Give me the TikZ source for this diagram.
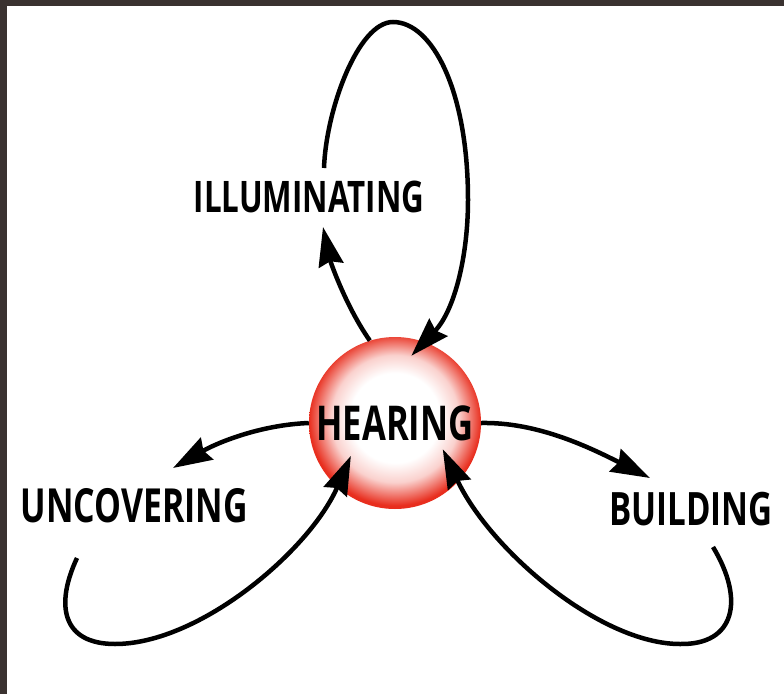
\documentclass[tikz,border=0pt]{standalone}
\usepackage{fontspec}
\usetikzlibrary{arrows.meta}
\newfontfamily\stagefont[FakeStretch=0.72]{Open Sans}
\definecolor{framebrown}{RGB}{58,50,48}
\definecolor{spherered}{RGB}{232,46,30}
\pgfdeclareradialshading{hearball}{\pgfpoint{0bp}{2bp}}{color(0bp)=(white); color(13bp)=(white); color(18.5bp)=(spherered!22); color(22.5bp)=(spherered!70); color(25bp)=(spherered); color(50bp)=(spherered)}
\begin{document}
\begin{tikzpicture}[x=1bp, y=-1bp,
    stagelabel/.style = {inner sep=0pt,
      font=\stagefont\bfseries\fontsize{#1bp}{#1bp}\selectfont},
    loopline/.style = {line width=4.5bp,
      -{Stealth[length=39bp,width=25bp,inset=4bp]}}]
    \useasboundingbox (0,0) rectangle (784,694);
    \fill[framebrown] (0,0) rectangle (784,694);
    \fill[white] (7,6) rectangle (784,694);
    \node[circle, minimum size=172bp, inner sep=0pt, shading=hearball,
      stagelabel=48] (hear) at (395,423) {HEARING};
    \node[stagelabel=43.5] (illum) at (309,197) {ILLUMINATING};
    \node[stagelabel=47] (uncov) at (134,506) {UNCOVERING};
    \node[stagelabel=46] (build) at (691,509) {BUILDING};
    \coordinate (illumTip) at (323,227);
    \coordinate (illumTail) at (324,168);
    \coordinate (uncovTip) at (173,468);
    \coordinate (uncovTail) at (77,558);
    \coordinate (buildTip) at (650,478);
    \coordinate (buildTail) at (713,547);
    \draw[loopline] (hear.107) .. controls (345,305) and (330,260) .. (illumTip);
    \draw[loopline, shorten >=-19bp] (illumTail) .. controls (326,110) and (358,22) .. (393,22)
        .. controls (432,22) and (468,90) .. (468,200)
        .. controls (468,255) and (455,310) .. (hear.70);
    \draw[loopline] (hear.180) .. controls (258,425) and (215,444) .. (uncovTip);
    \draw[loopline, shorten >=-34bp] (uncovTail) .. controls (55,605) and (62,644) .. (115,644)
        .. controls (200,644) and (310,550) .. (hear.228);
    \draw[loopline] (hear.0) .. controls (535,422) and (585,445) .. (buildTip);
    \draw[loopline, shorten >=-36bp] (buildTail) .. controls (745,600) and (735,645) .. (680,644)
        .. controls (600,644) and (490,550) .. (hear.317);
\end{tikzpicture}
\end{document}
